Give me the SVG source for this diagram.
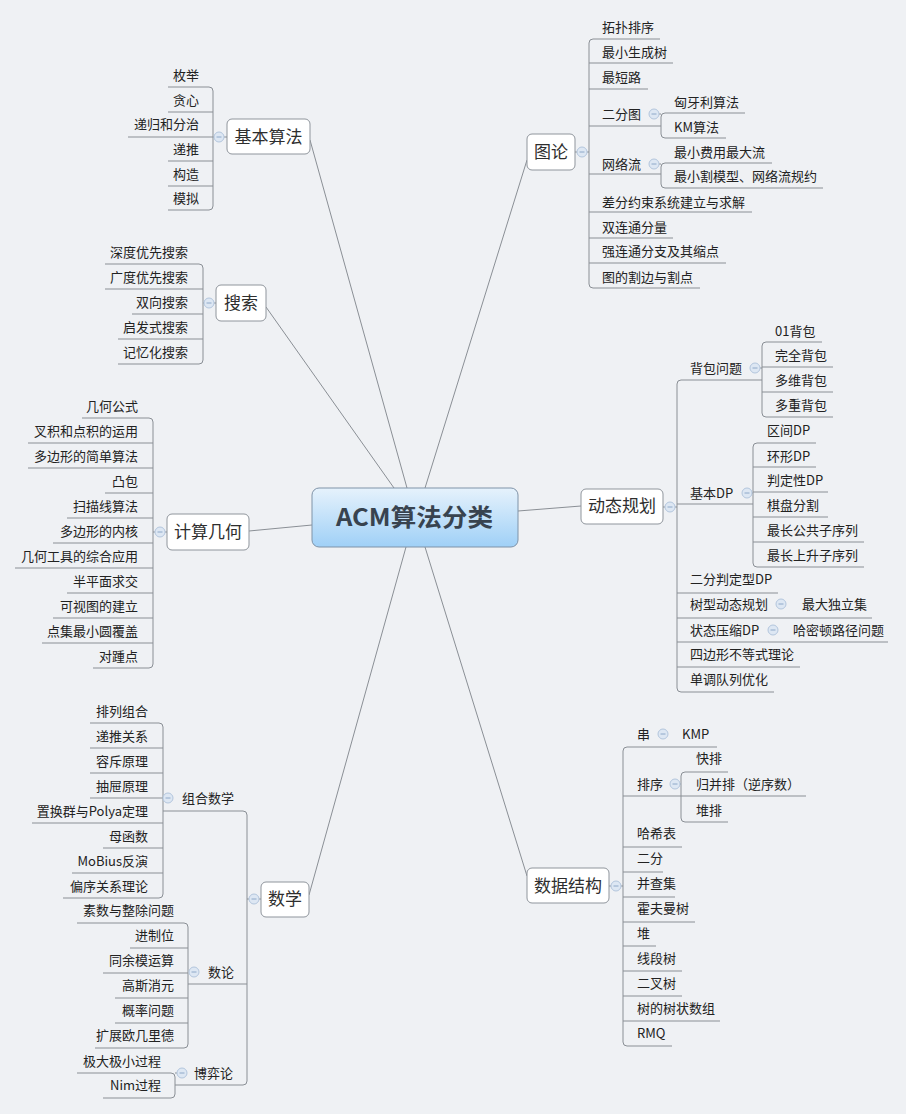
<svg xmlns="http://www.w3.org/2000/svg" xmlns:xlink="http://www.w3.org/1999/xlink" width="906" height="1114" viewBox="0 0 906 1114">
<style>
.ln{stroke:#8a8f95;stroke-width:1;fill:none}
.box{fill:#ffffff;stroke:#8f959c;stroke-width:1}
text{font-family:"Noto Sans CJK SC","Noto Sans",sans-serif;font-size:13px;fill:#222222}
.b{font-size:17px;fill:#2e2e2e}
.r{text-anchor:end}
.m{text-anchor:middle}
.tg circle{fill:#dde7f3;stroke:#b3c6dd;stroke-width:1}
.tg line{stroke:#8ea8c8;stroke-width:1}
</style>
<defs>
<linearGradient id="cg" x1="0" y1="0" x2="0" y2="1">
<stop offset="0" stop-color="#e6f2fc"/>
<stop offset="1" stop-color="#9fd0f7"/>
</linearGradient>
<g id="tog" class="tg"><circle cx="0" cy="0" r="5"/><line x1="-2.5" y1="0" x2="2.5" y2="0"/></g>
</defs>
<rect width="906" height="1114" fill="#eff1f4"/>
<g id="connectors" class="ln">
<line x1="310" y1="140" x2="407" y2="488"/>
<line x1="266" y1="307" x2="394" y2="488"/>
<line x1="249" y1="531" x2="312" y2="525"/>
<line x1="527" y1="160" x2="425" y2="488"/>
<line x1="518" y1="511" x2="581" y2="506"/>
<line x1="309" y1="895" x2="406" y2="547"/>
<line x1="527" y1="876" x2="425" y2="547"/>
<path d="M168 87H209Q213 87 213 91V206Q213 210 209 210H168M168 112H213M128 137H214M168 161H213M168 186H213M224 137H227"/>
<path d="M105 264H199Q203 264 203 268V360Q203 364 199 364H118M105 289H203M132 314H203M118 339H203M203 303H204M214 303H216"/>
<path d="M82 418H149Q153 418 153 422V664Q153 668 149 668H93M28 443H153M28 468H153M105 493H153M67 518H153M53 543H153M15 568H153M67 593H153M53 618H153M42 643H153M153 532H155M165 532H167"/>
<path d="M660 39H593Q589 39 589 43V284Q589 288 593 288H700M589 63H673M589 89H648M589 126H661M589 174H661M589 212H752M589 238H673M589 263H726M575 152H577M587 152H589"/>
<path d="M745 113H665Q661 113 661 117V134Q661 138 665 138H726M659 114H661"/>
<path d="M772 163H665Q661 163 661 167V184Q661 188 665 188H823M659 164H661"/>
<path d="M762 380H681Q677 380 677 384V688Q677 692 681 692H774M677 504H753M677 593H778M677 618H872M677 642H888M677 667H800M663 507H665M675 507H677"/>
<path d="M822 342H766Q762 342 762 346V413Q762 417 766 417H833M762 367H833M762 392H833M760 368H762"/>
<path d="M816 443H757Q753 443 753 447V563Q753 567 757 567H864M753 467H816M753 492H828M753 517H828M753 542H864M752 493H753"/>
<path d="M163 811H243Q247 811 247 815V1081Q247 1085 243 1085H175M188 984H247M247 899H249M259 899H261"/>
<path d="M90 723H159Q163 723 163 727V894Q163 898 159 898H63M90 748H163M90 773H163M90 798H163M32 823H163M103 848H163M72 873H163"/>
<path d="M77 923H184Q188 923 188 927V1044Q188 1048 184 1048H95M130 948H188M103 973H188M115 998H188M115 1023H188"/>
<path d="M77 1073H171Q175 1073 175 1077V1094Q175 1098 171 1098H103M175 1073H177"/>
<path d="M717 747H627Q623 747 623 751V1042Q623 1046 627 1046H672M623 796H806M623 847H682M623 872H663M623 897H675M623 922H695M623 946H656M623 971H682M623 996H682M623 1021H720M609 886H611M621 886H623"/>
<path d="M728 772H685Q681 772 681 776V818Q681 822 685 822H728M680 784H681"/>
</g>
<g id="toggles">
<use xlink:href="#tog" x="219" y="137"/>
<use xlink:href="#tog" x="209" y="303"/>
<use xlink:href="#tog" x="160" y="532"/>
<use xlink:href="#tog" x="582" y="152"/>
<use xlink:href="#tog" x="670" y="507"/>
<use xlink:href="#tog" x="254" y="899"/>
<use xlink:href="#tog" x="616" y="886"/>
<use xlink:href="#tog" x="654" y="114"/>
<use xlink:href="#tog" x="654" y="164"/>
<use xlink:href="#tog" x="755" y="368"/>
<use xlink:href="#tog" x="747" y="493"/>
<use xlink:href="#tog" x="781" y="604"/>
<use xlink:href="#tog" x="773" y="630"/>
<use xlink:href="#tog" x="168" y="798"/>
<use xlink:href="#tog" x="194" y="972"/>
<use xlink:href="#tog" x="182" y="1073"/>
<use xlink:href="#tog" x="663" y="734"/>
<use xlink:href="#tog" x="675" y="784"/>
</g>
<g id="center">
<rect x="312" y="488" width="206" height="59" rx="7" fill="url(#cg)" stroke="#7f93a8"/>
<text x="336" y="526" textLength="157" lengthAdjust="spacingAndGlyphs" style="font-size:24px;font-weight:bold;fill:#38434f">ACM算法分类</text>
</g>
<g id="n-jiben">
<rect class="box" x="227" y="119" width="83" height="35" rx="5"/>
<text class="b m" x="268.5" y="143">基本算法</text>
<text class="r" x="199" y="80">枚举</text>
<text class="r" x="199" y="105">贪心</text>
<text class="r" x="199" y="129">递归和分治</text>
<text class="r" x="199" y="154">递推</text>
<text class="r" x="199" y="179">构造</text>
<text class="r" x="199" y="203">模拟</text>
</g>
<g id="n-sousuo">
<rect class="box" x="216" y="285" width="50" height="36" rx="5"/>
<text class="b m" x="241" y="309">搜索</text>
<text class="r" x="188" y="257">深度优先搜索</text>
<text class="r" x="188" y="282">广度优先搜索</text>
<text class="r" x="188" y="307">双向搜索</text>
<text class="r" x="188" y="332">启发式搜索</text>
<text class="r" x="188" y="357">记忆化搜索</text>
</g>
<g id="n-jihe">
<rect class="box" x="167" y="514" width="82" height="36" rx="5"/>
<text class="b m" x="208" y="538">计算几何</text>
<text class="r" x="138" y="411">几何公式</text>
<text class="r" x="138" y="436">叉积和点积的运用</text>
<text class="r" x="138" y="461">多边形的简单算法</text>
<text class="r" x="138" y="486">凸包</text>
<text class="r" x="138" y="511">扫描线算法</text>
<text class="r" x="138" y="536">多边形的内核</text>
<text class="r" x="138" y="561">几何工具的综合应用</text>
<text class="r" x="138" y="586">半平面求交</text>
<text class="r" x="138" y="611">可视图的建立</text>
<text class="r" x="138" y="636">点集最小圆覆盖</text>
<text class="r" x="138" y="661">对踵点</text>
</g>
<g id="n-tulun">
<rect class="box" x="527" y="134" width="48" height="36" rx="5"/>
<text class="b m" x="551" y="158">图论</text>
<text x="602" y="32">拓扑排序</text>
<text x="602" y="57">最小生成树</text>
<text x="602" y="82">最短路</text>
<text x="602" y="119">二分图</text>
<text x="674" y="107">匈牙利算法</text>
<text x="674" y="132">KM算法</text>
<text x="602" y="169">网络流</text>
<text x="674" y="157">最小费用最大流</text>
<text x="674" y="181">最小割模型、网络流规约</text>
<text x="602" y="207">差分约束系统建立与求解</text>
<text x="602" y="232">双连通分量</text>
<text x="602" y="256">强连通分支及其缩点</text>
<text x="602" y="282">图的割边与割点</text>
</g>
<g id="n-dp">
<rect class="box" x="581" y="489" width="82" height="35" rx="5"/>
<text class="b m" x="622" y="512">动态规划</text>
<text x="690" y="373">背包问题</text>
<text x="775" y="336">01背包</text>
<text x="775" y="360">完全背包</text>
<text x="775" y="385">多维背包</text>
<text x="775" y="410">多重背包</text>
<text x="690" y="498">基本DP</text>
<text x="767" y="435">区间DP</text>
<text x="767" y="461">环形DP</text>
<text x="767" y="485">判定性DP</text>
<text x="767" y="510">棋盘分割</text>
<text x="767" y="535">最长公共子序列</text>
<text x="767" y="560">最长上升子序列</text>
<text x="690" y="584">二分判定型DP</text>
<text x="690" y="609">树型动态规划</text>
<text x="802" y="609">最大独立集</text>
<text x="690" y="635">状态压缩DP</text>
<text x="793" y="635">哈密顿路径问题</text>
<text x="690" y="659">四边形不等式理论</text>
<text x="690" y="684">单调队列优化</text>
</g>
<g id="n-shuxue">
<rect class="box" x="261" y="882" width="48" height="35" rx="5"/>
<text class="b m" x="285" y="905">数学</text>
<text x="182" y="803">组合数学</text>
<text class="r" x="148" y="716">排列组合</text>
<text class="r" x="148" y="741">递推关系</text>
<text class="r" x="148" y="766">容斥原理</text>
<text class="r" x="148" y="791">抽屉原理</text>
<text class="r" x="148" y="816">置换群与Polya定理</text>
<text class="r" x="148" y="841">母函数</text>
<text class="r" x="148" y="866">MoBius反演</text>
<text class="r" x="148" y="891">偏序关系理论</text>
<text x="208" y="977">数论</text>
<text class="r" x="174" y="915">素数与整除问题</text>
<text class="r" x="174" y="940">进制位</text>
<text class="r" x="174" y="965">同余模运算</text>
<text class="r" x="174" y="990">高斯消元</text>
<text class="r" x="174" y="1015">概率问题</text>
<text class="r" x="174" y="1040">扩展欧几里德</text>
<text x="194" y="1078">博弈论</text>
<text class="r" x="161" y="1066">极大极小过程</text>
<text class="r" x="161" y="1090">Nim过程</text>
</g>
<g id="n-shuju">
<rect class="box" x="527" y="868" width="82" height="35" rx="5"/>
<text class="b m" x="568" y="892">数据结构</text>
<text x="637" y="739">串</text>
<text x="682" y="739">KMP</text>
<text x="637" y="789">排序</text>
<text x="696" y="763">快排</text>
<text x="696" y="789" textLength="104">归并排（逆序数）</text>
<text x="696" y="815">堆排</text>
<text x="637" y="838">哈希表</text>
<text x="637" y="863">二分</text>
<text x="637" y="888">并查集</text>
<text x="637" y="913">霍夫曼树</text>
<text x="637" y="938">堆</text>
<text x="637" y="963">线段树</text>
<text x="637" y="988">二叉树</text>
<text x="637" y="1013">树的树状数组</text>
<text x="637" y="1038">RMQ</text>
</g>
</svg>
